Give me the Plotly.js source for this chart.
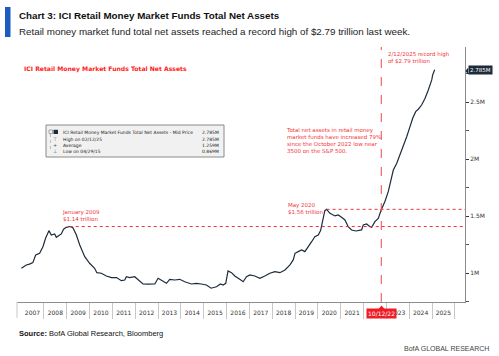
<!DOCTYPE html>
<html>
<head>
<meta charset="utf-8">
<script src="https://cdn.plot.ly/plotly-3.0.1.min.js"></script>
<style>html,body{margin:0;padding:0;background:#fff;}#chart{width:499px;height:356px;}</style>
</head>
<body>
<div id="chart"></div>
<script>
// ---- data (values in millions, as labelled on the chart's axis) ----
const dates = [
 '2007-01-05','2007-03-25','2007-05-15','2007-07-08','2007-08-22','2007-10-24','2007-12-16',
 '2008-01-27','2008-03-21','2008-04-28','2008-06-21','2008-07-17','2008-09-09','2008-10-05','2008-11-10','2008-12-24',
 '2009-02-17','2009-04-09','2009-06-03','2009-07-27','2009-10-15',
 '2010-01-01','2010-03-22','2010-04-27','2010-07-08','2010-09-26','2010-12-16',
 '2011-03-07','2011-05-24','2011-07-17','2011-08-12','2011-10-04','2011-12-24',
 '2012-02-14','2012-05-04','2012-07-24','2012-11-09',
 '2013-01-01','2013-02-24','2013-05-15','2013-07-06','2013-09-24','2013-12-13',
 '2014-03-03','2014-06-18','2014-09-06','2014-11-24',
 '2015-02-13','2015-04-29','2015-07-24','2015-09-26','2015-11-07','2015-12-19',
 '2016-01-25','2016-03-21','2016-05-12','2016-07-31','2016-09-23','2016-11-16',
 '2017-01-08','2017-03-29','2017-06-17','2017-09-05','2017-11-24',
 '2018-02-13','2018-05-04','2018-07-24','2018-10-12','2018-12-03',
 '2019-01-01','2019-02-21','2019-04-16','2019-06-07','2019-07-31','2019-09-24','2019-11-14',
 '2020-01-08','2020-02-14','2020-03-17','2020-04-22','2020-05-20','2020-07-13','2020-10-01','2020-11-22',
 '2021-01-15','2021-03-10','2021-05-01','2021-06-24','2021-09-01','2021-12-01','2021-12-28',
 '2022-02-20','2022-04-15','2022-05-12','2022-07-02','2022-08-25','2022-10-15','2022-12-08',
 '2023-02-01','2023-03-28','2023-04-23','2023-06-17','2023-08-08','2023-10-01','2023-11-23',
 '2024-01-15','2024-02-27','2024-04-15','2024-05-26','2024-07-19','2024-09-12','2024-11-03','2024-12-28',
 '2025-01-11','2025-02-12'
];
const assets = [
 1.044,1.073,1.080,1.093,1.160,1.175,1.233,
 1.307,1.374,1.336,1.345,1.316,1.336,1.345,1.386,1.403,
 1.410,1.400,1.336,1.248,1.146,
 1.088,1.044,1.005,1.000,0.976,0.962,
 0.962,0.935,0.941,0.970,0.962,0.970,
 0.947,0.906,0.904,0.906,
 0.956,0.935,0.912,0.947,0.941,0.947,
 0.926,0.906,0.912,0.906,
 0.897,0.869,0.882,0.906,0.897,0.912,
 1.020,1.005,0.976,0.947,0.926,0.970,
 0.985,0.976,0.956,0.976,1.000,
 1.014,1.005,1.029,1.073,1.117,
 1.175,1.190,1.204,1.190,1.228,1.277,1.321,
 1.336,1.374,1.468,1.549,1.561,1.526,1.503,1.511,
 1.491,1.468,1.409,1.380,1.371,1.380,1.424,
 1.432,1.409,1.403,1.453,1.482,1.561,1.628,
 1.716,1.847,1.906,1.965,2.038,2.111,2.198,
 2.286,2.360,2.418,2.439,2.476,2.535,2.608,2.696,
 2.739,2.785
];
const yTickVals = [1, 1.5, 2, 2.5];
const yTickText = ['1M', '1.5M', '2M', '2.5M'];
const yMinorVals = [0.75, 1.25, 1.75, 2.25, 2.75];
const years = ['2007','2008','2009','2010','2011','2012','2013','2014','2015','2016','2017','2018','2019','2020','2021','2022','2023','2024','2025'];
const yearMid = years.map(y => y + '-07-02');
const yearStarts = ['2008','2009','2010','2011','2012','2013','2014','2015','2016','2017','2018','2019','2020','2021','2022','2023','2024','2025','2026'].map(y => y + '-01-01');
const lastValue = 2.785, lastDate = '2025-02-12';
const jan2009 = {date: '2009-02-17', value: 1.41};
const may2020 = {date: '2020-05-20', value: 1.561};
const markerDate = '2022-10-12';
const legendRows = [
  ['ICI Retail Money Market Funds Total Net Assets - Mid Price', '2.785M'],
  ['High on 02/12/25', '2.785M'],
  ['Average', '1.259M'],
  ['Low on 04/29/15', '0.869M']
];

// ---- layout helpers (pixel -> paper) ----
const L = 17, R = 465, T = 47, B = 302;
const px = p => (p - L) / (R - L);
const py = p => (B - p) / (B - T);
const RED = '#f2333a';
const SMALL = 'DejaVu Sans';
const HEAD = 'Liberation Sans';

const annotations = [];
function txt(text, x, y, opt) {
  annotations.push(Object.assign({
    text: text, xref: 'paper', yref: 'paper', x: px(x), y: py(y),
    xanchor: 'left', yanchor: 'middle', showarrow: false,
    font: {family: SMALL, size: 6, color: RED}
  }, opt || {}));
}

// header
txt('<b>Chart 3: ICI Retail Money Market Funds Total Net Assets</b>', 17, 16,
  {font: {family: HEAD, size: 9.8, color: '#111'}});
txt('Retail money market fund total net assets reached a record high of $2.79 trillion last week.', 17, 31,
  {font: {family: HEAD, size: 9.8, color: '#222'}});
// footer
txt('<b>Source:</b> BofA Global Research, Bloomberg', 17, 333,
  {font: {family: HEAD, size: 7.5, color: '#111'}});
txt('BofA GLOBAL RESEARCH', 491, 348,
  {xanchor: 'right', font: {family: HEAD, size: 7, color: '#444'}});
// red in-chart title
txt('<b>ICI Retail Money Market Funds Total Net Assets</b>', 22, 69,
  {font: {family: SMALL, size: 6.1, color: '#ff1a1a'}});
// legend box rows
const rowY = [132, 139, 145, 151];
const icons = ['', '⊤', '+', '⊥'];
legendRows.forEach((r, i) => {
  txt(r[0], 61, rowY[i], {font: {family: SMALL, size: 4.5, color: '#222'}});
  txt(r[1], 221, rowY[i], {xanchor: 'right', font: {family: SMALL, size: 4.5, color: '#222'}});
  if (icons[i]) txt(icons[i], 55, rowY[i], {xanchor: 'center', font: {family: SMALL, size: 5, color: '#555'}});
});
// commentary
txt('Total net assets in retail money<br>market funds have increased 79%<br>since the October 2022 low near<br>3500 on the S&P 500.', 284, 140,
  {align: 'left', font: {family: SMALL, size: 5.5, color: RED}});
txt('2/12/2025 record high<br>of $2.79 trillion', 386, 58,
  {align: 'left', font: {family: SMALL, size: 5.5, color: RED}});
txt('January 2009<br>$1.14 trillion', 60, 215,
  {align: 'left', font: {family: SMALL, size: 5.5, color: RED}});
txt('May 2020<br>$1.56 trillion', 286, 208,
  {align: 'left', font: {family: SMALL, size: 5.5, color: RED}});
// last value tag on the right axis
annotations.push({
  text: '2.785M', xref: 'paper', yref: 'y', x: px(468), y: lastValue,
  xanchor: 'left', yanchor: 'middle', showarrow: false,
  bgcolor: '#1d2b3a', borderpad: 1,
  font: {family: SMALL, size: 5.5, color: '#fff'}
});
// date tag on the x axis
annotations.push({
  text: '10/12/22', xref: 'x', yref: 'paper', x: markerDate, y: py(313),
  xanchor: 'center', yanchor: 'middle', showarrow: false,
  bgcolor: '#ee1c25', borderpad: 1,
  font: {family: SMALL, size: 6, color: '#fff'}
});

const shapes = [
  // blue bar beside header
  {type: 'rect', xref: 'paper', yref: 'paper', x0: px(5), x1: px(10.5), y0: py(7), y1: py(37),
   fillcolor: '#1a5cc0', line: {width: 0}},
  // legend box
  {type: 'rect', xref: 'paper', yref: 'paper', x0: px(46), x1: px(224), y0: py(125), y1: py(157),
   fillcolor: '#f1f1f1', line: {color: '#8a8a8a', width: 1}},
  {type: 'rect', xref: 'paper', yref: 'paper', x0: px(49), x1: px(52.5), y0: py(130), y1: py(133.5),
   fillcolor: 'rgba(0,0,0,0)', line: {color: '#777', width: 0.6}},
  {type: 'rect', xref: 'paper', yref: 'paper', x0: px(53.5), x1: px(58), y0: py(129.8), y1: py(134),
   fillcolor: '#1d2b3a', line: {width: 0}},
  {type: 'line', xref: 'paper', yref: 'paper', x0: px(50.5), x1: px(50.5), y0: py(134), y1: py(151),
   line: {color: '#999', width: 0.6, dash: 'dot'}},
  // dotted reference levels
  {type: 'line', xref: 'x', yref: 'y', x0: jan2009.date, x1: '2026-06-13', y0: jan2009.value, y1: jan2009.value,
   line: {color: '#f0313a', width: 1, dash: 'dot'}},
  {type: 'line', xref: 'x', yref: 'y', x0: may2020.date, x1: '2026-06-13', y0: may2020.value, y1: may2020.value,
   line: {color: '#f0313a', width: 1, dash: 'dot'}},
  // dashed vertical marker
  {type: 'line', xref: 'x', yref: 'paper', x0: markerDate, x1: markerDate, y0: 0, y1: 1,
   line: {color: '#f0464c', width: 1, dash: 'dash'}},
  // pointer triangle of the date tag
  {type: 'path', xref: 'paper', yref: 'paper',
   path: `M ${px(378.5)} ${py(309)} L ${px(384.5)} ${py(309)} L ${px(381.5)} ${py(305.5)} Z`,
   fillcolor: '#ee1c25', line: {width: 0}},
  // pointer of the value tag
  {type: 'path', xref: 'paper', yref: 'paper',
   path: `M ${px(468.2)} ${py(67.5)} L ${px(468.2)} ${py(74.5)} L ${px(465.5)} ${py(71)} Z`,
   fillcolor: '#1d2b3a', line: {width: 0}},
  // left end tick of the x axis
  {type: 'line', xref: 'paper', yref: 'paper', x0: 0, x1: 0, y0: py(302), y1: py(318),
   line: {color: '#c8c8c8', width: 1}}
];

const trace = {
  type: 'scatter', mode: 'lines', x: dates, y: assets,
  line: {color: '#1d2b3a', width: 1.2, shape: 'linear'},
  hoverinfo: 'skip', showlegend: false
};

const layout = {
  width: 499, height: 356,
  margin: {l: L, r: 499 - R, t: T, b: 356 - B},
  paper_bgcolor: '#fff', plot_bgcolor: '#fff',
  showlegend: false,
  xaxis: {
    type: 'date', range: ['2006-10-27', '2026-06-13'],
    tickmode: 'array', tickvals: yearMid, ticktext: years,
    ticks: '', showgrid: false, zeroline: false,
    showline: true, linecolor: '#8c8c8c', linewidth: 1,
    tickfont: {family: SMALL, size: 6, color: '#333'},
    ticklabelstandoff: 5,
    minor: {tickmode: 'array', tickvals: yearStarts, ticks: 'outside', ticklen: 16, tickcolor: '#c8c8c8', tickwidth: 1, showgrid: false},
    fixedrange: true
  },
  yaxis: {
    range: [0.748, 2.985], side: 'right',
    tickmode: 'array', tickvals: yTickVals, ticktext: yTickText,
    ticks: 'outside', ticklen: 3, tickcolor: '#333', tickwidth: 1,
    showgrid: false, zeroline: false,
    showline: true, linecolor: '#8c8c8c', linewidth: 1,
    tickfont: {family: SMALL, size: 6, color: '#333'},
    minor: {tickmode: 'array', tickvals: yMinorVals, ticks: 'outside', ticklen: 3, tickcolor: '#555', tickwidth: 1, showgrid: false},
    fixedrange: true
  },
  annotations: annotations,
  shapes: shapes
};

Plotly.newPlot('chart', [trace], layout, {staticPlot: true, displayModeBar: false});
</script>
</body>
</html>
